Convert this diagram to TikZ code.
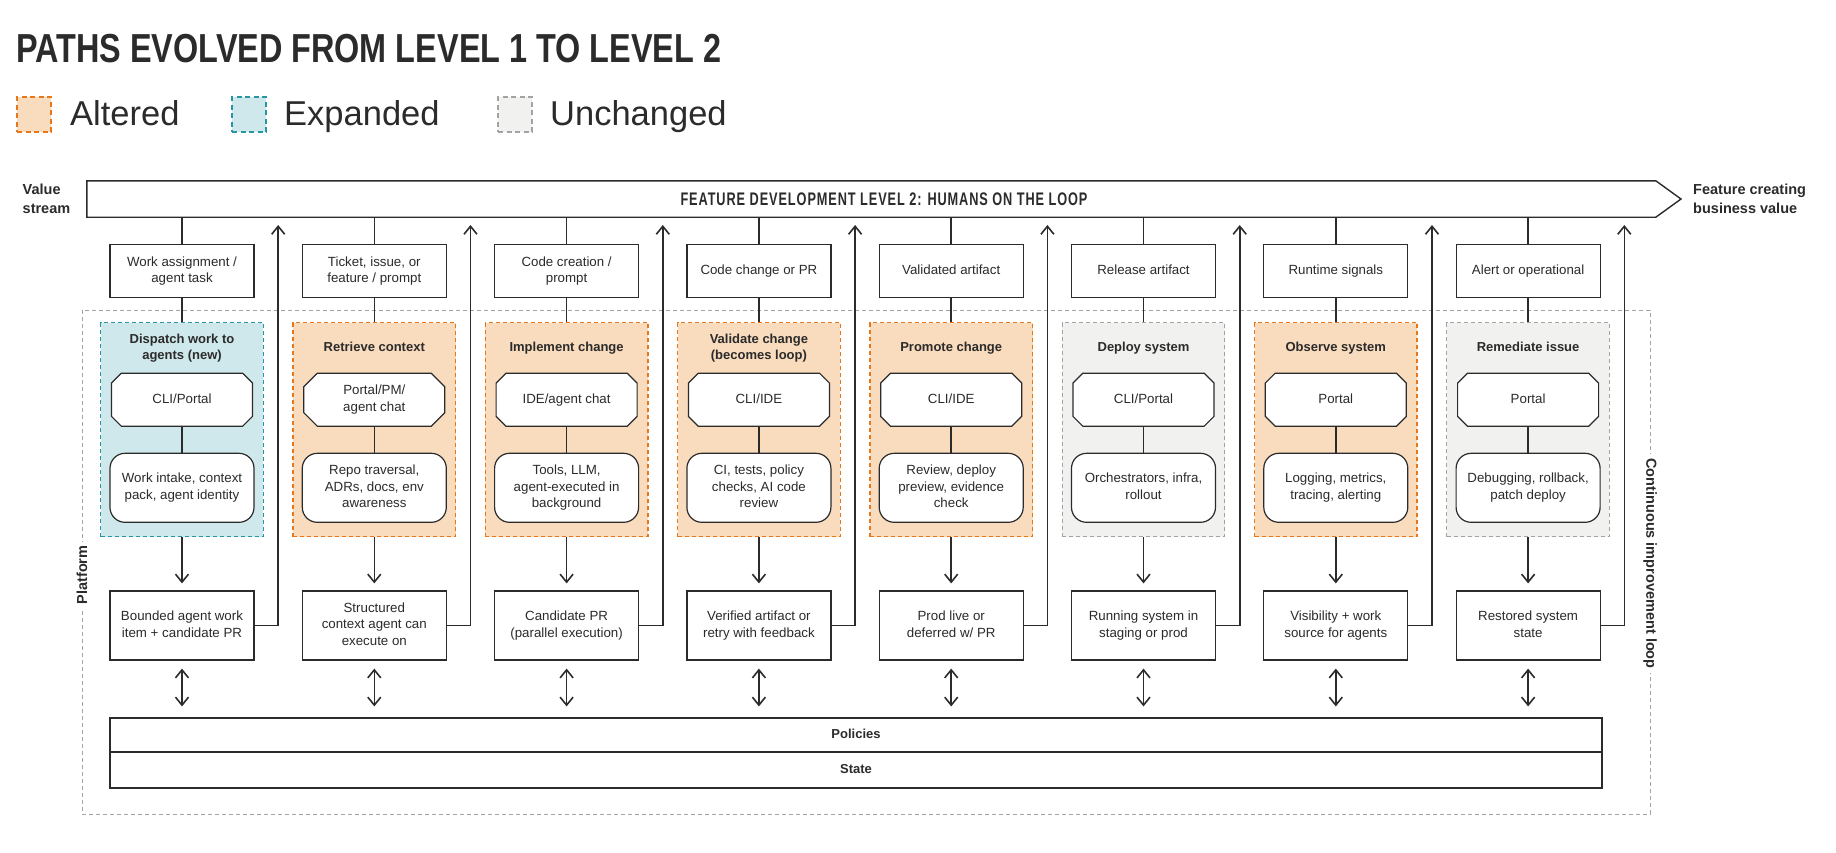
\documentclass[tikz,border=0pt]{standalone}
\usepackage{fontspec}
\setmainfont{Liberation Sans}
\newfontfamily\condfont[FakeStretch=0.8]{Liberation Sans}
\newfontfamily\barfont[FakeStretch=0.7,LetterSpace=5]{Liberation Sans}
\usetikzlibrary{arrows.meta,shapes.misc,positioning}
\definecolor{ink}{HTML}{2B2B2B}
\definecolor{altfill}{HTML}{F9DBBD}
\definecolor{altline}{HTML}{E8771A}
\definecolor{expfill}{HTML}{CFE8EB}
\definecolor{expline}{HTML}{2697A0}
\definecolor{uncfill}{HTML}{F1F1F0}
\definecolor{uncline}{HTML}{A3A3A3}
\newcommand\fsz[2]{\fontsize{#1}{#2}\selectfont}
\tikzset{
  box/.style={draw=ink, line width=1.2pt, fill=white, text=ink, align=center, inner sep=0pt, text depth=3pt},
  topbox/.style={box, minimum width=144pt, minimum height=53pt, font=\fsz{13.3}{16.7}},
  outbox/.style={box, minimum width=144pt, minimum height=69pt, font=\fsz{13.3}{16.7}},
  actbox/.style={box, rounded corners=15pt, minimum width=144pt, minimum height=69pt, font=\fsz{13.3}{16.7}},
  toolbox/.style={box, chamfered rectangle, chamfered rectangle xsep=10pt, minimum width=141pt, minimum height=53pt, font=\fsz{13.3}{16.7}},
  tint/.style={line width=1.3pt, dash pattern=on 4pt off 3pt, minimum width=162.6pt, minimum height=214pt, inner sep=0pt},
  altered/.style={draw=altline, fill=altfill},
  expanded/.style={draw=expline, fill=expfill},
  unchanged/.style={draw=uncline, fill=uncfill},
  tinttitle/.style={text=ink, align=center, text depth=3pt, font=\bfseries\fsz{13}{15.5}},
  band/.style={box, minimum width=1492pt, font=\bfseries\fsz{13}{16}},
  sidelabel/.style={text=ink, align=left, inner sep=0pt, font=\bfseries\fsz{14.5}{19}},
  legsq/.style={line width=2.2pt, dash pattern=on 5pt off 3.5pt, minimum width=34pt, minimum height=35pt, inner sep=0pt},
  legtxt/.style={text=ink, anchor=base west, inner sep=0pt, font=\fsz{34.5}{40}},
  conn/.style={draw=ink, line width=1.6pt},
}
\begin{document}
\begin{tikzpicture}[x=1pt,y=-1pt,>={Straight Barb[length=8pt,width=13pt]}]
\useasboundingbox (0,0) rectangle (1836,852);

\node[text=ink, anchor=base west, inner sep=0pt, font=\condfont\bfseries\fsz{40.5}{44}] (title) at (16,62) {PATHS EVOLVED FROM LEVEL 1 TO LEVEL 2};
\node[legsq, altered] (legalt) at (34,114.5) {};
\node[legtxt] (legalttxt) at (70,125) {Altered};
\node[legsq, expanded] (legexp) at (249,114.5) {};
\node[legtxt] (legexptxt) at (284,125) {Expanded};
\node[legsq, unchanged] (legunc) at (515,114.5) {};
\node[legtxt] (leguntxt) at (550,125) {Unchanged};

\draw[draw=uncline, line width=1pt, dash pattern=on 4pt off 3pt] (82,310) rectangle (1650,814);
\node[sidelabel, fill=white, inner sep=4pt, rotate=90] (platform) at (82,575) {Platform};
\node[sidelabel, fill=white, inner sep=4pt, rotate=-90] (loop) at (1650,563.5) {Continuous improvement loop};

\node[minimum width=1568.6pt, minimum height=36pt, inner sep=0pt] (vs) at (871.3,199) {};
\draw[conn, line width=1.4pt, line join=miter] (vs.north west) -- (vs.north east) -- (1681,199) -- (vs.south east) -- (vs.south west) -- cycle;
\node[text=ink, inner sep=0pt, font=\barfont\bfseries\fsz{18.2}{20}] (vstitle) at (884,199) {FEATURE DEVELOPMENT LEVEL 2: HUMANS ON THE LOOP};
\node[sidelabel, anchor=north west] (vslabel) at (22.5,184) {Value\\stream};
\node[sidelabel, anchor=north west] (fclabel) at (1693,184) {Feature creating\\business value};

\node[band, minimum height=34pt] (pol) at (856,735) {Policies};
\node[band, minimum height=36pt] (state) at (856,770) {State};

\foreach \i/\topt/\kind/\ttl/\tool/\act/\outt in {
  1/{Work assignment /\\agent task}/expanded/{Dispatch work to\\agents (new)}/{CLI/Portal}/{Work intake, context\\pack, agent identity}/{Bounded agent work\\item + candidate PR},
  2/{Ticket, issue, or\\feature / prompt}/altered/{Retrieve context}/{Portal/PM/\\agent chat}/{Repo traversal,\\ADRs, docs, env\\awareness}/{Structured\\context agent can\\execute on},
  3/{Code creation /\\prompt}/altered/{Implement change}/{IDE/agent chat}/{Tools, LLM,\\agent-executed in\\background}/{Candidate PR\\(parallel execution)},
  4/{Code change or PR}/altered/{Validate change\\(becomes loop)}/{CLI/IDE}/{CI, tests, policy\\checks, AI code\\review}/{Verified artifact or\\retry with feedback},
  5/{Validated artifact}/altered/{Promote change}/{CLI/IDE}/{Review, deploy\\preview, evidence\\check}/{Prod live or\\deferred w/ PR},
  6/{Release artifact}/unchanged/{Deploy system}/{CLI/Portal}/{Orchestrators, infra,\\rollout}/{Running system in\\staging or prod},
  7/{Runtime signals}/altered/{Observe system}/{Portal}/{Logging, metrics,\\tracing, alerting}/{Visibility + work\\source for agents},
  8/{Alert or operational}/unchanged/{Remediate issue}/{Portal}/{Debugging, rollback,\\patch deploy}/{Restored system\\state}} {
  \pgfmathsetmacro\cx{182+192.3*(\i-1)}
  \node[topbox] (top\i) at (\cx,271.2) {\topt};
  \node[tint, \kind] (tint\i) at (\cx,429.7) {};
  \node[tinttitle] (ttl\i) at (\cx,348.5) {\ttl};
  \node[toolbox] (tool\i) at (\cx,399.7) {\tool};
  \node[actbox] (act\i) at (\cx,487.8) {\act};
  \node[outbox] (out\i) at (\cx,625.5) {\outt};
  \coordinate (up\i) at (\cx+96.2,225);
  \draw[conn] (vs.south -| top\i.north) -- (top\i.north);
  \draw[conn] (top\i.south) -- (tint\i.north);
  \draw[conn] (tool\i.south) -- (act\i.north);
  \draw[conn, ->, shorten >=7pt] (tint\i.south) -- (out\i.north);
  \draw[conn, ->] (out\i.east) -| (up\i);
  \draw[conn, <->, shorten <=8pt, shorten >=11pt] (out\i.south) -- (out\i.south |- pol.north);
}
\end{tikzpicture}
\end{document}
